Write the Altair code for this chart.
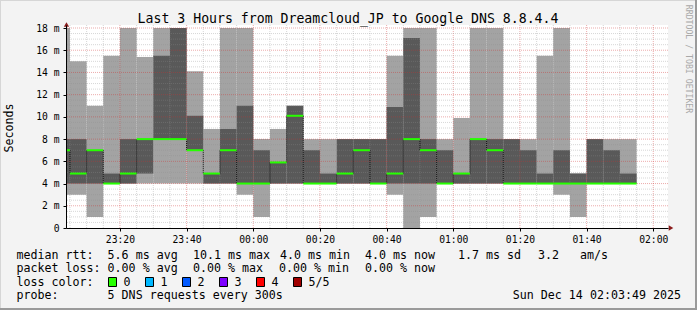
import json
import altair as alt
import pandas as pd

# ---------------- data ----------------
bin_times = ["23:00", "23:05", "23:10", "23:15", "23:20", "23:25", "23:30", "23:35",
             "23:40", "23:45", "23:50", "23:55", "00:00", "00:05", "00:10", "00:15",
             "00:20", "00:25", "00:30", "00:35", "00:40", "00:45", "00:50", "00:55",
             "01:00", "01:05", "01:10", "01:15", "01:20", "01:25", "01:30", "01:35",
             "01:40", "01:45", "01:50"]
rtt_min = [3.0, 3.0, 1.0, 4.0, 4.0, 4.0, 4.0, 4.0, 4.0, 4.0, 4.0, 3.0, 1.0, 4.0, 4.0, 4.0,
           4.0, 4.0, 4.0, 4.0, 3.0, 0.0, 1.0, 4.0, 4.0, 4.0, 4.0, 4.0, 4.0, 4.0, 3.0, 1.0,
           4.0, 4.0, 4.0]
rtt_p2 = [4.0, 4.0, 4.0, 4.0, 4.0, 4.9, 8.0, 8.0, 7.0, 4.0, 4.0, 4.0, 4.0, 4.0, 4.0, 4.0,
          4.0, 4.0, 4.0, 4.0, 4.0, 4.0, 4.0, 4.0, 4.0, 4.0, 4.0, 4.0, 4.0, 4.0, 4.0, 4.0,
          4.0, 4.0, 4.0]
rtt_median = [7.0, 4.9, 7.0, 4.0, 4.9, 8.0, 8.0, 8.0, 7.0, 4.9, 7.0, 4.0, 4.0, 5.9, 10.1, 4.0,
              4.0, 4.9, 7.0, 4.0, 4.9, 8.0, 7.0, 4.0, 4.9, 8.0, 7.0, 4.0, 4.0, 4.0, 4.0, 4.0,
              4.0, 4.0, 4.0]
rtt_p4 = [8.0, 8.0, 7.0, 4.9, 8.0, 8.0, 15.5, 18.0, 10.1, 4.9, 8.9, 11.0, 7.0, 5.9, 11.0, 7.0,
          4.9, 8.0, 8.0, 8.0, 10.9, 17.1, 8.0, 7.0, 4.9, 8.0, 8.0, 8.0, 7.0, 4.9, 7.0, 4.9,
          8.0, 7.0, 4.9]
rtt_max = [18.0, 15.0, 11.0, 15.5, 18.0, 15.4, 18.0, 18.0, 14.1, 8.9, 18.0, 18.0, 8.0, 8.9, 11.0, 8.0,
           8.0, 8.0, 8.0, 8.0, 15.5, 18.0, 18.0, 8.0, 9.9, 18.0, 18.0, 8.0, 8.0, 15.5, 18.0, 4.9,
           8.0, 8.0, 8.0]
step_minutes = 5
window_start = "23:03:49"
window_minutes = 180

x_tick_values = [20, 40, 60, 80, 100, 120, 140, 160, 180]
x_tick_labels = ["23:20", "23:40", "00:00", "00:20", "00:40", "01:00", "01:20", "01:40", "02:00"]
y_tick_values = [0, 2, 4, 6, 8, 10, 12, 14, 16, 18]
y_tick_labels = ["0\u00a0\u00a0", "2 m", "4 m", "6 m", "8 m", "10 m", "12 m", "14 m", "16 m", "18 m"]

title_text = "Last 3 Hours from Dreamcloud_JP to Google DNS 8.8.4.4"
y_title = "Seconds"
side_text = "RRDTOOL / TOBI OETIKER"
line1 = ["median rtt:", "5.6 ms avg", "10.1 ms max", "4.0 ms min", "4.0 ms now", "1.7 ms sd", "3.2", "am/s"]
line2 = ["packet loss:", "0.00 % avg", "0.00 % max", "0.00 % min", "0.00 % now"]
loss_label = "loss color:"
loss_names = ["0", "1", "2", "3", "4", "5/5"]
loss_colors = ["#26ff00", "#00b8ff", "#0059ff", "#7e00ff", "#ff0000", "#a00000"]
probe_label = "probe:"
probe_text = "5 DNS requests every 300s"
stamp_text = "Sun Dec 14 02:03:49 2025"


def to_min(s):
    parts = [int(p) for p in s.split(":")]
    h, m = parts[0], parts[1]
    sec = parts[2] if len(parts) > 2 else 0
    base = (h - 23) * 60 if h >= 12 else (h + 1) * 60
    return base + m + sec / 60.0


starts = [to_min(t) for t in bin_times]
df = pd.DataFrame({
    "start": starts,
    "end": [s + step_minutes for s in starts],
    "mn": rtt_min, "p2": rtt_p2, "med": rtt_median, "p4": rtt_p4, "mx": rtt_max,
})
conn = pd.DataFrame({
    "bx": starts[1:],
    "ya": rtt_median[:-1],
    "yb": rtt_median[1:],
})
conn = conn[conn["ya"] != conn["yb"]]

t0 = to_min(window_start)
W, H = 602, 203
PX_PER_MIN = 600 / window_minutes
x_domain = [t0, t0 + W / PX_PER_MIN]
y_domain = [0, 18 * H / 200]

grid_minor_x = [v for v in range(5, 185, 5) if v % 20 != 0]
grid_major_x = [v for v in range(20, 185, 20)]
grid_minor_y = [v / 2 for v in range(1, 37) if v % 4 != 0]
grid_major_y = [v for v in range(2, 19, 2)]

MONO = "DejaVu Sans Mono"
OX, OY = 66, 25  # view origin on page

x_label_expr = f"{json.dumps(x_tick_labels)}[indexof({json.dumps(x_tick_values)}, datum.value)]"
y_label_expr = f"{json.dumps(y_tick_labels, ensure_ascii=False)}[indexof({json.dumps(y_tick_values)}, datum.value)]"

xscale = alt.Scale(domain=x_domain, nice=False, zero=False)
yscale = alt.Scale(domain=y_domain, nice=False, zero=False)
xaxis = alt.Axis(values=x_tick_values, labelExpr=x_label_expr, grid=False, title=None,
                 domainColor="#000000", tickColor="#000000", tickSize=3, labelPadding=3,
                 labelFont=MONO, labelFontSize=9.7, labelColor="#000000", zindex=1,
                 labelFlush=False, labelOverlap=False)
yaxis = alt.Axis(values=y_tick_values, labelExpr=y_label_expr, grid=False, title=None,
                 domainColor="#000000", tickColor="#000000", tickSize=3, labelPadding=4,
                 labelFont=MONO, labelFontSize=9.7, labelColor="#000000", zindex=1,
                 labelBaseline="middle", labelFlush=False, labelOverlap=False)


def X(f):
    return alt.X(f"{f}:Q", scale=xscale, axis=xaxis)


def Y(f):
    return alt.Y(f"{f}:Q", scale=yscale, axis=yaxis)


base = alt.Chart(df)
light = base.mark_rect(color="#a3a3a3", clip=True).encode(
    x=X("start"), x2="end", y=Y("mn"), y2="mx")
dark = base.mark_rect(color="#595959", clip=True).encode(
    x=X("start"), x2="end", y=Y("p2"), y2="p4")

gminx = alt.Chart(pd.DataFrame({"gx": grid_minor_x})).mark_rule(
    color="#8c8c8c", opacity=0.35, strokeDash=[1, 1], strokeWidth=1).encode(x=X("gx"))
gmajx = alt.Chart(pd.DataFrame({"gx": grid_major_x})).mark_rule(
    color="#d03030", opacity=0.4, strokeDash=[1, 1], strokeWidth=1).encode(x=X("gx"))
gminy = alt.Chart(pd.DataFrame({"gy": grid_minor_y})).mark_rule(
    color="#8c8c8c", opacity=0.35, strokeDash=[1, 1], strokeWidth=1).encode(y=Y("gy"))
gmajy = alt.Chart(pd.DataFrame({"gy": grid_major_y})).mark_rule(
    color="#d03030", opacity=0.4, strokeDash=[1, 1], strokeWidth=1).encode(y=Y("gy"))

connectors = alt.Chart(conn).mark_rule(
    color="#000000", strokeDash=[1, 1], strokeWidth=1, clip=True).encode(
    x=X("bx"), y=Y("ya"), y2="yb")
median = base.mark_rule(color=loss_colors[0], strokeWidth=2, clip=True).encode(
    x=X("start"), x2="end", y=Y("med"))

one = alt.Data(values=[{"k": 1}])


def txt(s, x, y, size=11.65, align="left", color="#000000", angle=0, baseline="middle"):
    return alt.Chart(one).mark_text(
        text=s, align=align, baseline=baseline, font=MONO, fontSize=size,
        color=color, angle=angle).encode(x=alt.value(x - OX), y=alt.value(y - OY))


def box(x0, x1, y0, y1, color, stroke=None):
    kw = dict(color=color)
    if stroke:
        kw.update(stroke=stroke, strokeWidth=1)
    return alt.Chart(one).mark_rect(**kw).encode(
        x=alt.value(x0 - OX), x2=alt.value(x1 - OX), y=alt.value(y0 - OY), y2=alt.value(y1 - OY))


ann = []
# frame
ann.append(box(0, 697, 0, 1, "#d6d6d6"))
ann.append(box(0, 1, 0, 310, "#d6d6d6"))
ann.append(box(695, 697, 0, 310, "#9a9a9a"))
ann.append(box(0, 697, 308, 310, "#9a9a9a"))

# arrows
ann.append(alt.Chart(one).mark_point(shape="triangle-up", filled=True, color="#8b1c1c",
                                     size=28, opacity=1).encode(x=alt.value(0.5), y=alt.value(-0.5)))
ann.append(alt.Chart(one).mark_point(shape="triangle-right", filled=True, color="#8b1c1c",
                                     size=28, opacity=1).encode(x=alt.value(W + 3), y=alt.value(H)))

ann.append(txt(title_text, 348, 18.5, size=13.2, align="center"))
ann.append(txt(y_title, 10, 128, angle=270, align="center"))
ann.append(txt(side_text, 688, 59, size=8.2, align="center", color="#a8a8a8", angle=90))

l1x = [16.4, 107.6, 193, 280, 365, 458, 538, 580]
for s, x in zip(line1, l1x):
    ann.append(txt(s, x, 255.5))
l2x = [16.4, 107.6, 193, 279, 365]
for s, x in zip(line2, l2x):
    ann.append(txt(s, x, 269))
ann.append(txt(loss_label, 16.4, 282.5))
for i, (name, col) in enumerate(zip(loss_names, loss_colors)):
    bx0 = 108.5 + 37 * i
    ann.append(box(bx0, bx0 + 8, 277.5, 286.5, col, stroke="#000000"))
    ann.append(txt(name, bx0 + 15, 282.5))
ann.append(txt(probe_label, 16.4, 296))
ann.append(txt(probe_text, 107.6, 296))
ann.append(txt(stamp_text, 681, 296, align="right"))

chart = alt.layer(light, dark, gminx, gmajx, gminy, gmajy, connectors, median, *ann).properties(
    width=W, height=H,
    autosize=alt.AutoSizeParams(type="none"),
    padding={"left": OX, "top": OY, "right": 697 - OX - W, "bottom": 310 - OY - H},
    background="#f3f3f3",
).configure_view(fill="#ffffff", stroke=None)

chart.save("out.html", embed_options={"renderer": "svg", "actions": False})
